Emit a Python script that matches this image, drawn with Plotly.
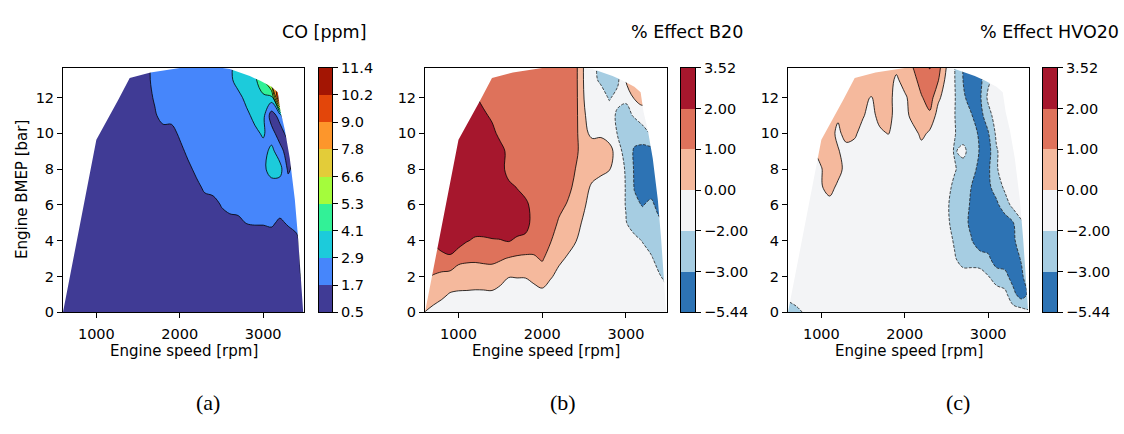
import numpy as np
import plotly.graph_objects as go

# ---------------------------------------------------------------------------
# Engine map grid: engine speed [rpm] (columns) and BMEP [bar] (rows)
# ---------------------------------------------------------------------------
speed_rpm = [600, 700, 800, 900, 1000, 1100, 1200, 1300, 1400, 1500,
             1600, 1700, 1800, 1900, 2000, 2100, 2200, 2300, 2400, 2500,
             2600, 2700, 2800, 2900, 3000, 3100, 3200, 3300, 3400, 3500]
bmep_bar = [0, 1, 2, 3, 4, 5, 6, 7, 8, 9, 10, 11, 12, 13, 14]

# CO emission map [ppm], one row per BMEP value
co_ppm = [
    [1.1, 1.1, 1.1, 1.1, 1.1, 1.1, 1.1, 1.1, 1.1, 1.1,  1.1, 1.1, 1.1, 1.1, 1.1, 1.1, 1.1, 1.1, 1.1, 1.1,  1.1, 1.1, 1.1, 1.1, 1.1, 1.1, 1.1, 1.1, 1.2, 1.5],
    [1.1, 1.1, 1.1, 1.1, 1.1, 1.1, 1.1, 1.1, 1.1, 1.1,  1.1, 1.1, 1.1, 1.1, 1.1, 1.1, 1.1, 1.1, 1.1, 1.1,  1.1, 1.1, 1.1, 1.1, 1.1, 1.1, 1.1, 1.1, 1.2, 1.6],
    [1.1, 1.1, 1.1, 1.1, 1.1, 1.1, 1.1, 1.1, 1.1, 1.1,  1.1, 1.1, 1.1, 1.1, 1.1, 1.1, 1.1, 1.1, 1.1, 1.1,  1.1, 1.1, 1.1, 1.1, 1.1, 1.1, 1.1, 1.1, 1.2, 2.2],
    [1.1, 1.1, 1.1, 1.1, 1.1, 1.1, 1.1, 1.1, 1.1, 1.1,  1.1, 1.1, 1.1, 1.1, 1.1, 1.1, 1.1, 1.1, 1.1, 1.1,  1.1, 1.1, 1.1, 1.1, 1.1, 1.1, 1.1, 1.1, 1.3, 2.3],
    [1.1, 1.1, 1.1, 1.1, 1.1, 1.1, 1.1, 1.1, 1.1, 1.1,  1.1, 1.1, 1.1, 1.1, 1.1, 1.1, 1.1, 1.1, 1.1, 1.1,  1.1, 1.1, 1.1, 1.1, 1.1, 1.1, 1.1, 1.1, 1.5, 2.3],
    [1.1, 1.1, 1.1, 1.1, 1.1, 1.1, 1.1, 1.1, 1.1, 1.1,  1.1, 1.1, 1.1, 1.1, 1.1, 1.1, 1.1, 1.1, 1.1, 1.1,  1.1, 1.3, 1.75, 1.8, 1.8, 1.9, 1.5, 1.85, 2.0, 2.3],
    [1.1, 1.1, 1.1, 1.1, 1.1, 1.1, 1.1, 1.1, 1.1, 1.1,  1.1, 1.1, 1.1, 1.1, 1.1, 1.1, 1.1, 1.1, 1.1, 1.8,  2.3, 2.3, 2.3, 2.3, 2.3, 2.3, 2.3, 2.3, 2.3, 2.3],
    [1.1, 1.1, 1.1, 1.1, 1.1, 1.1, 1.1, 1.1, 1.1, 1.1,  1.1, 1.1, 1.1, 1.1, 1.1, 1.1, 1.3, 2.0, 2.3, 2.3,  2.3, 2.3, 2.3, 2.3, 2.3, 2.3, 2.3, 2.3, 2.3, 2.3],
    [1.1, 1.1, 1.1, 1.1, 1.1, 1.1, 1.1, 1.1, 1.1, 1.1,  1.1, 1.1, 1.1, 1.1, 1.1, 1.3, 2.1, 2.3, 2.3, 2.3,  2.3, 2.3, 2.3, 2.3, 2.6, 3.5, 3.4, 1.5, 2.3, 2.3],
    [1.1, 1.1, 1.1, 1.1, 1.1, 1.1, 1.1, 1.1, 1.1, 1.1,  1.1, 1.1, 1.1, 1.1, 1.2, 2.1, 2.3, 2.3, 2.3, 2.3,  2.3, 2.3, 2.3, 2.3, 2.4, 3.3, 2.2, 1.1, 2.3, 2.3],
    [1.1, 1.1, 1.1, 1.1, 1.1, 1.1, 1.1, 1.1, 1.1, 1.1,  1.1, 1.1, 1.1, 1.1, 2.0, 2.3, 2.3, 2.3, 2.3, 2.3,  2.3, 2.3, 2.3, 2.6, 3.1, 2.2, 1.1, 2.2, 3.0, 3.0],
    [1.1, 1.1, 1.1, 1.1, 1.1, 1.1, 1.1, 1.1, 1.1, 1.1,  1.1, 1.5, 2.3, 2.3, 2.3, 2.3, 2.3, 2.3, 2.3, 2.3,  2.3, 2.3, 2.6, 3.3, 3.3, 1.1, 2.2, 6.0, 10.0, 10.0],
    [1.1, 1.1, 1.1, 1.1, 1.1, 1.1, 1.1, 1.1, 1.1, 1.1,  1.1, 1.9, 2.3, 2.3, 2.3, 2.3, 2.3, 2.3, 2.3, 2.3,  2.3, 2.5, 3.3, 3.5, 3.9, 3.6, 11.3, 9.0, 9.0, 9.0],
    [1.1, 1.1, 1.1, 1.1, 1.1, 1.1, 1.1, 1.1, 1.1, 1.1,  1.2, 2.3, 2.3, 2.3, 2.3, 2.3, 2.3, 2.3, 2.3, 2.3,  2.6, 3.5, 3.6, 3.9, 5.0, 8.0, 10.0, 9.0, 9.0, 9.0],
    [1.1, 1.1, 1.1, 1.1, 1.1, 1.1, 1.1, 1.1, 1.1, 1.1,  1.2, 2.3, 2.3, 2.3, 2.3, 2.3, 2.3, 2.3, 2.3, 2.3,  2.6, 3.5, 3.6, 3.9, 5.0, 8.0, 10.0, 9.0, 9.0, 9.0],
]

# Relative effect of B20 on CO [%]
effect_b20 = [
    [-0.05, -0.48, -0.86, -1.4, -1.52, -1.52, -1.64, -1.6, -1.64, -1.6,  -1.4, -1.4, -1.4, -1.4, -1.6, -1.4, -1.4, -1.4, -1.4, -1.4,  -1.2, -1.0, -1.0, -1.0, -1.0, -1.0, -1.0, -1.0, -1.0, -1.0],
    [0.6, 0.35, 0.17, -0.14, -0.26, -0.28, -0.34, -0.34, -0.3, -0.72,  -1.4, -1.2, -1.3, -0.74, -0.46, -0.82, -1.2, -1.4, -1.4, -1.4,  -1.2, -1.0, -1.0, -1.0, -1.0, -1.0, -1.0, -1.0, -1.0, -1.4],
    [1.1, 0.94, 0.76, 0.6, 0.51, 0.49, 0.48, 0.51, 0.53, 0.36,  0.04, 0.05, 0.06, 0.25, 0.42, 0.07, -0.42, -0.8, -1.2, -1.4,  -1.2, -1.0, -1.0, -1.0, -1.0, -1.0, -1.0, -1.0, -1.8, -2.4],
    [1.6, 1.5, 1.67, 1.85, 1.25, 1.16, 1.14, 1.19, 1.21, 1.09,  0.93, 0.83, 0.81, 0.86, 1.1, 0.56, 0.14, -0.14, -0.6, -1.2,  -1.2, -1.0, -1.0, -1.0, -1.0, -1.0, -1.2, -1.7, -2.5, -2.5],
    [2.46, 2.3, 2.76, 2.76, 2.76, 2.08, 1.86, 1.86, 1.93, 1.96,  2.08, 1.84, 1.65, 1.5, 1.5, 1.05, 0.5, 0.26, 0.03, -0.8,  -1.2, -1.0, -1.0, -1.0, -1.2, -1.4, -2.05, -2.5, -2.6, -2.8],
    [2.76, 2.76, 2.76, 2.76, 2.76, 2.76, 2.76, 2.76, 2.76, 2.76,  2.76, 2.76, 2.76, 1.5, 1.5, 1.5, 0.86, 0.59, 0.3, -0.3,  -1.2, -1.0, -1.0, -1.0, -1.9, -2.5, -2.5, -2.5, -2.8, -3.0],
    [2.76, 2.76, 2.76, 2.76, 2.76, 2.76, 2.76, 2.76, 2.76, 2.76,  2.76, 2.76, 2.46, 1.5, 1.5, 1.5, 1.3, 0.92, 0.55, 0.1,  -0.8, -1.0, -1.0, -1.0, -2.05, -2.8, -3.12, -2.75, -3.98, -3.98],
    [2.76, 2.76, 2.76, 2.76, 2.76, 2.76, 2.76, 2.76, 2.76, 2.76,  2.46, 1.95, 1.5, 1.5, 1.5, 1.5, 1.5, 1.3, 0.75, 0.4,  -0.4, -1.0, -1.0, -1.0, -2.05, -3.12, -4.22, -4.22, -3.98, -3.98],
    [2.76, 2.76, 2.76, 2.76, 2.76, 2.76, 2.76, 2.76, 2.76, 2.76,  1.5, 1.5, 1.5, 1.5, 1.5, 1.5, 1.5, 1.5, 0.97, 0.5,  0.5, 0.3, 0.05, -1.0, -2.1, -3.24, -4.22, -4.22, -3.98, -3.98],
    [2.76, 2.76, 2.76, 2.76, 2.76, 2.76, 2.76, 2.76, 2.76, 2.91,  1.5, 1.5, 1.5, 1.5, 1.5, 1.5, 1.5, 1.5, 1.25, 0.4,  0.5, 0.5, 0.4, -1.0, -2.5, -3.24, -3.73, -3.98, -3.98, -3.98],
    [2.76, 2.76, 2.76, 2.76, 2.76, 2.76, 2.76, 2.76, 2.76, 1.5,  1.5, 1.5, 1.5, 1.5, 1.5, 1.5, 1.5, 1.5, 1.25, 0.2,  -0.4, -0.3, -1.0, -2.05, -2.5, -2.7, -2.5, -1.9, -2.5, -2.5],
    [2.76, 2.76, 2.76, 2.76, 2.76, 2.76, 2.76, 2.46, 1.7, 1.5,  1.5, 1.5, 1.5, 1.5, 1.5, 1.5, 1.5, 1.5, 1.25, 0.1,  -1.0, -1.0, -1.0, -2.2, -2.3, -1.8, -0.8, -1.0, -1.0, -1.0],
    [2.76, 2.76, 2.76, 2.76, 2.76, 2.76, 2.3, 1.5, 1.5, 1.5,  1.5, 1.5, 1.5, 1.5, 1.5, 1.5, 1.5, 1.5, 1.25, -0.04,  -1.0, -1.0, -2.1, -1.4, -1.7, 0.1, 0.3, -0.2, -1.0, -1.0],
    [2.76, 2.76, 2.76, 2.76, 2.76, 2.76, 1.8, 1.5, 1.5, 1.5,  1.5, 1.5, 1.5, 1.5, 1.5, 1.5, 1.5, 1.5, 1.25, -0.2,  -1.4, -2.2, -2.5, -2.2, 0.1, 0.3, 0.3, -0.2, -1.0, -1.0],
    [2.76, 2.76, 2.76, 2.76, 2.76, 2.76, 1.8, 1.5, 1.5, 1.5,  1.5, 1.5, 1.5, 1.5, 1.5, 1.5, 1.5, 1.5, 1.25, -0.2,  -1.6, -2.2, -2.5, -2.2, 0.1, 0.3, 0.3, -0.2, -1.0, -1.0],
]

# Relative effect of HVO20 on CO [%]
effect_hvo20 = [
    [-2.8, -2.26, -1.8, -1.0, -1.0, -1.0, -1.0, -1.0, -1.0, -1.0,  -1.0, -1.0, -1.0, -1.0, -1.0, -1.0, -1.0, -1.0, -1.0, -1.0,  -1.0, -1.0, -1.0, -1.0, -1.0, -1.0, -1.0, -1.0, -1.0, -1.8],
    [-1.0, -1.0, -1.0, -1.0, -1.0, -1.0, -1.0, -1.0, -1.0, -1.0,  -1.0, -1.0, -1.0, -1.0, -1.0, -1.0, -1.0, -1.0, -1.0, -1.0,  -1.0, -1.0, -1.0, -1.0, -1.0, -1.0, -1.4, -2.7, -4.22, -2.7],
    [-1.0, -1.0, -1.0, -1.0, -1.0, -1.0, -1.0, -1.0, -1.0, -1.0,  -1.0, -1.0, -1.0, -1.0, -1.0, -1.0, -1.0, -1.0, -1.0, -1.0,  -1.0, -1.0, -1.0, -1.0, -1.9, -2.5, -2.7, -3.98, -3.49, -2.2],
    [-1.0, -1.0, -1.0, -1.0, -1.0, -1.0, -1.0, -1.0, -1.0, -1.0,  -1.0, -1.0, -1.0, -1.0, -1.0, -1.0, -1.0, -1.0, -1.0, -1.0,  -1.8, -2.5, -2.5, -2.6, -2.8, -4.22, -4.22, -4.22, -2.9, -1.6],
    [-1.0, -1.0, -1.0, -1.0, -1.0, -1.0, -1.0, -1.0, -1.0, -1.0,  -1.0, -1.0, -1.0, -1.0, -1.0, -1.0, -1.0, -1.0, -1.0, -1.0,  -2.15, -2.5, -2.95, -4.22, -4.22, -4.22, -4.22, -3.49, -2.4, -1.4],
    [-1.0, -1.0, -1.0, -1.0, -1.0, -1.0, -1.0, -1.0, -1.0, -1.0,  -1.0, -1.0, -1.0, -1.0, -1.0, -1.0, -1.0, -1.0, -1.0, -1.4,  -2.5, -2.7, -3.49, -4.22, -4.22, -4.22, -4.22, -3.12, -2.1, -1.4],
    [-1.0, -1.0, -1.0, -1.0, -1.0, -1.0, -1.0, -1.0, -1.0, -1.0,  -1.0, -1.0, -1.0, -1.0, -1.0, -1.0, -1.0, -1.0, -1.0, -1.6,  -2.5, -2.7, -3.24, -4.22, -4.22, -3.49, -2.5, -1.4, -1.0, -1.0],
    [-1.0, -1.0, -1.0, -1.0, -0.2, 0.5, -0.6, -1.0, -1.0, -1.0,  -1.0, -1.0, -1.0, -1.0, -1.0, -1.0, -1.0, -1.0, -1.0, -1.2,  -2.3, -2.5, -3.05, -4.22, -3.49, -2.6, -1.6, -1.0, -1.0, -1.0],
    [-1.0, -1.0, -1.0, -1.0, -0.1, 0.5, 0.5, -1.0, -1.0, -1.0,  -1.0, -1.0, -1.0, -1.0, -1.0, -1.0, -1.0, -1.0, -1.0, -1.0,  -1.8, -2.5, -2.5, -3.98, -3.49, -2.1, -1.0, -1.0, -1.0, -1.0],
    [0.02, 0.02, 0.02, 0.02, 0.3, 0.5, 0.1, -1.0, -1.0, -1.0,  -1.0, -1.0, -1.0, -1.0, -1.0, -1.0, -1.0, -1.0, -1.0, -1.0,  -2.1, -1.4, -2.5, -3.15, -3.98, -2.1, -1.0, -1.0, -1.0, -1.0],
    [0.5, 0.5, 0.5, 0.5, 0.5, 0.5, -0.6, 0.5, 0.2, -1.0,  -1.0, -0.6, 0.05, -1.0, -1.0, -1.0, 0.3, -0.4, -1.0, -1.0,  -1.9, -2.5, -2.6, -3.37, -3.24, -1.6, -1.0, -1.0, -1.0, -1.0],
    [0.5, 0.5, 0.5, 0.5, 0.5, 0.5, 0.2, 0.5, 0.5, 0.1,  -1.0, 0.5, 0.5, -1.0, -1.0, 0.5, 0.5, 0.8, -0.8, -1.0,  -1.98, -2.5, -2.95, -3.98, -2.4, -1.0, -1.0, -1.0, -1.0, -1.0],
    [0.5, 0.5, 0.5, 0.5, 0.5, 0.5, 0.5, 0.5, 0.5, 0.2,  -0.1, 0.5, 0.5, -1.0, -0.4, 0.5, 0.9, 1.5, 0.21, -1.0,  -1.9, -2.8, -4.22, -3.49, -1.6, -1.0, -1.0, -1.0, -1.0, -1.0],
    [0.5, 0.5, 0.5, 0.5, 0.5, 0.5, 0.5, 0.5, 0.5, 0.5,  0.5, 0.5, 0.5, -0.4, 0.5, 0.6, 1.5, 1.7, 1.1, -0.6,  -1.98, -3.05, -4.22, -3.73, -2.2, -1.0, -1.0, -1.0, -1.0, -1.0],
    [0.5, 0.5, 0.5, 0.5, 0.5, 0.5, 0.5, 0.5, 0.5, 0.5,  0.5, 0.5, 0.5, 0.5, 0.5, 1.2, 1.5, 2.3, 1.5, 0.1,  -1.98, -3.05, -4.22, -3.73, -2.2, -1.0, -1.0, -1.0, -1.0, -1.0],
]

# Operating envelope of the engine map; everything outside is blanked out
envelope_rpm = [600, 1000, 1260, 1400, 1650, 2000, 2450, 2600, 2840, 2960,
                3100, 3175, 3210, 3260, 3320, 3380, 3420, 3455, 3480]
envelope_bar = [0, 9.65, 11.85, 13.1, 13.4, 13.65, 13.7, 13.6, 13.2, 12.95,
                12.6, 12.3, 11.2, 10.2, 8.6, 6.3, 4.1, 1.8, 0]

# Contour levels and colorbar labels
co_min, co_max, co_bands = 0.5, 11.4, 9
co_ticklabels = ['0.5', '1.7', '2.9', '4.1', '5.3', '6.6', '7.8', '9.0', '10.2', '11.4']
co_colors = ['#403b95', '#4686fb', '#1ccbdb', '#32f197', '#a4fc3c',
             '#e3cc39', '#fd962b', '#e3460a', '#a31503']

effect_levels = [-5.44, -3.00, -2.00, 0.00, 1.00, 2.00, 3.52]
effect_ticklabels = ['\u22125.44', '\u22123.00', '\u22122.00', '0.00', '1.00', '2.00', '3.52']
effect_colors = ['#2d73b4', '#a6cde2', '#f3f4f6', '#f5b99d', '#de725b', '#a6172d']

W, H = 1124, 434
FONT = 'DejaVu Sans'


def xdom(left, right):
    return [left / W, right / W]


def ydom(top, bottom):
    return [1 - bottom / H, 1 - top / H]


def band_scale(colors):
    """Piecewise-constant colorscale: one flat colour per contour band."""
    n = len(colors)
    scale = []
    for k, c in enumerate(colors):
        scale.append([k / n, c])
        scale.append([(k + 1) / n, c])
    return scale


def step_scale(colors):
    n = len(colors)
    return [[k / (n - 1), c] for k, c in enumerate(colors)]


def envelope_mask(xa, ya):
    return go.Scatter(
        x=envelope_rpm + [3600, 3600, 500, 500],
        y=envelope_bar + [0, 15, 15, 0],
        fill='toself', fillcolor='white', mode='lines',
        line=dict(width=0, color='white'),
        hoverinfo='skip', showlegend=False, xaxis=xa, yaxis=ya)


def colorbar_strip(colors, xa, ya):
    n = len(colors)
    return go.Heatmap(
        x=[0], y=[k + 0.5 for k in range(n)], z=[[k] for k in range(n)],
        colorscale=step_scale(colors), zmin=0, zmax=n - 1,
        showscale=False, hoverinfo='skip', xaxis=xa, yaxis=ya)


fig = go.Figure()

# (a) CO map
fig.add_trace(go.Contour(
    x=speed_rpm, y=bmep_bar, z=co_ppm, xaxis='x', yaxis='y',
    autocontour=False,
    contours=dict(start=co_min, end=co_max, size=(co_max - co_min) / co_bands,
                  coloring='fill', showlines=True),
    colorscale=band_scale(co_colors), zmin=co_min, zmax=co_max,
    line=dict(color='black', width=0.8), showscale=False, hoverinfo='skip'))
fig.add_trace(envelope_mask('x', 'y'))
fig.add_trace(colorbar_strip(co_colors, 'x4', 'y4'))

# (b), (c) relative effect maps; non-uniform levels are mapped onto level index
level_index = list(range(len(effect_levels)))
for data, xa, ya, cxa, cya in [(effect_b20, 'x2', 'y2', 'x5', 'y5'),
                               (effect_hvo20, 'x3', 'y3', 'x6', 'y6')]:
    zi = np.interp(np.array(data, dtype=float), effect_levels, level_index)
    fig.add_trace(go.Contour(
        x=speed_rpm, y=bmep_bar, z=zi, xaxis=xa, yaxis=ya, autocontour=False,
        contours=dict(start=0, end=6, size=1, coloring='fill', showlines=False),
        colorscale=band_scale(effect_colors), zmin=0, zmax=6,
        line=dict(width=0), showscale=False, hoverinfo='skip'))
    # solid lines for non-negative levels
    fig.add_trace(go.Contour(
        x=speed_rpm, y=bmep_bar, z=zi, xaxis=xa, yaxis=ya, autocontour=False,
        contours=dict(start=3, end=5, size=1, coloring='none', showlines=True),
        line=dict(color='black', width=0.8), showscale=False, hoverinfo='skip'))
    # dashed lines for negative levels
    fig.add_trace(go.Contour(
        x=speed_rpm, y=bmep_bar, z=zi, xaxis=xa, yaxis=ya, autocontour=False,
        contours=dict(start=1, end=2, size=1, coloring='none', showlines=True),
        line=dict(color='#222222', width=0.8, dash='3px,1.5px'),
        showscale=False, hoverinfo='skip'))
    fig.add_trace(envelope_mask(xa, ya))
    fig.add_trace(colorbar_strip(effect_colors, cxa, cya))

tickfont = dict(family=FONT, size=14.5, color='black')
frame = dict(showline=True, linecolor='black', linewidth=1, mirror=True,
             showgrid=False, zeroline=False)
plot_top, plot_bottom = 62, 316

layout_axes = {}
panels = [('', (63, 304)), ('2', (425, 667)), ('3', (788, 1029))]
for suffix, (l, r) in panels:
    layout_axes['xaxis' + suffix] = dict(
        domain=xdom(l, r), anchor='y' + suffix, range=[600, 3490],
        tickvals=[1000, 2000, 3000], ticks='outside', ticklen=5, tickwidth=1.1,
        tickcolor='black', tickfont=tickfont, ticklabelstandoff=3, **frame)
    layout_axes['yaxis' + suffix] = dict(
        domain=ydom(plot_top, plot_bottom), anchor='x' + suffix, range=[0, 13.67],
        tickvals=[0, 2, 4, 6, 8, 10, 12], ticks='outside', ticklen=5, tickwidth=1.1,
        tickcolor='black', tickfont=tickfont, **frame)

bars = [('4', (319, 332), co_ticklabels), ('5', (681, 695), effect_ticklabels),
        ('6', (1043, 1057), effect_ticklabels)]
for suffix, (l, r), labels in bars:
    n = len(labels) - 1
    layout_axes['xaxis' + suffix] = dict(
        domain=xdom(l, r), anchor='y' + suffix, range=[-0.5, 0.5],
        showticklabels=False, ticks='', **frame)
    layout_axes['yaxis' + suffix] = dict(
        domain=ydom(plot_top, plot_bottom), anchor='x' + suffix, range=[0, n],
        side='right', tickvals=list(range(n + 1)), ticktext=labels,
        ticks='outside', ticklen=5, tickwidth=1.1, tickcolor='black',
        tickfont=tickfont, **frame)

annotations = []
for text, xr in [('CO [ppm]', 368), ('% Effect B20', 745), ('% Effect HVO20', 1121)]:
    annotations.append(dict(text=text, x=xr / W, y=1 - 25 / H, xref='paper', yref='paper',
                            xanchor='right', yanchor='middle', showarrow=False,
                            font=dict(family=FONT, size=17.5, color='black')))
for xc in [183.5, 546, 908.5]:
    annotations.append(dict(text='Engine speed [rpm]', x=xc / W, y=1 - 356 / H,
                            xref='paper', yref='paper', xanchor='center', yanchor='middle',
                            showarrow=False, font=dict(family=FONT, size=15, color='black')))
annotations.append(dict(text='Engine BMEP [bar]', x=22 / W, y=1 - 189 / H, textangle=-90,
                        xref='paper', yref='paper', xanchor='center', yanchor='middle',
                        showarrow=False, font=dict(family=FONT, size=15, color='black')))
for text, xc in [('(a)', 208), ('(b)', 563), ('(c)', 958)]:
    annotations.append(dict(text=text, x=xc / W, y=1 - 410 / H, xref='paper', yref='paper',
                            xanchor='center', yanchor='middle', showarrow=False,
                            font=dict(family='Liberation Serif', size=22, color='black')))

fig.update_layout(
    width=W, height=H, margin=dict(l=0, r=0, t=0, b=0),
    paper_bgcolor='white', plot_bgcolor='white', showlegend=False,
    annotations=annotations, **layout_axes)

fig.write_html('out.html')
